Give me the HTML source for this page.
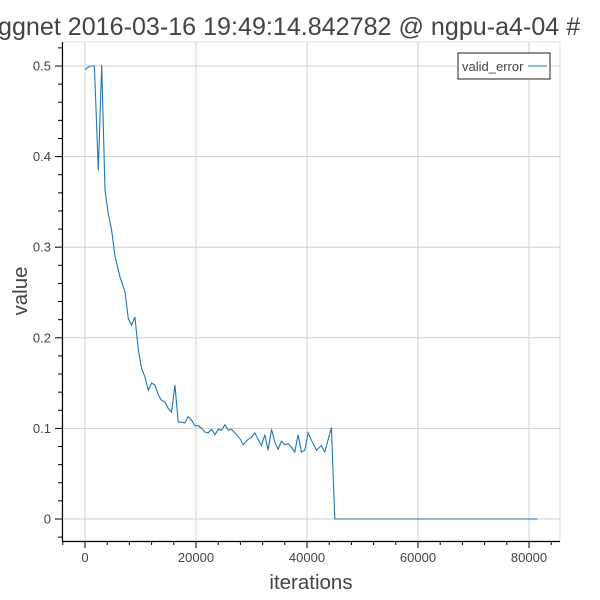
<!DOCTYPE html>
<html><head><meta charset="utf-8"><style>
html,body{margin:0;padding:0;background:#fff;}
svg{display:block;font-family:"Liberation Sans",sans-serif;}
</style></head><body>
<svg id="chart" width="600" height="600">
<text x="-2" y="35" font-size="25.1" fill="#444">ggnet 2016-03-16 19:49:14.842782 @ ngpu-a4-04 #</text>
<rect x="62" y="42" width="498" height="499" fill="none" stroke="#e0e0e0"/>
<g id="grid"></g>
<g id="series"></g>
<g id="axes"></g>
<text x="311" y="589" font-size="20.5" fill="#444" text-anchor="middle">iterations</text>
<text x="27" y="291" font-size="20.5" fill="#444" text-anchor="middle" transform="rotate(-90 27 291)">value</text>
<g>
<rect x="458" y="53" width="92" height="26" fill="#fff" stroke="#222"/>
<text x="462" y="71" font-size="13" fill="#444">valid_error</text>
<line x1="528" y1="66" x2="547" y2="66" stroke="#1f77b4" stroke-width="1"/>
</g>
</svg>
<script>
const iterations=[0,900,1700,2400,3000,3600,4200,4800,5400,6300,7200,7800,8400,9000,9600,10200,10800,11400,12000,12600,13200,13800,14400,15000,15600,16200,16800,17400,18000,18600,19200,19800,20400,21000,21600,22200,22800,23400,24000,24600,25200,25800,26400,27000,27900,28500,29400,30000,30600,31800,32400,33000,33600,34200,34800,35400,36000,36600,37200,37800,38400,39000,39600,40200,40800,41700,42600,43200,44400,45000,81500];
const validError=[0.496,0.5,0.5,0.385,0.501,0.363,0.337,0.319,0.29,0.267,0.251,0.221,0.214,0.223,0.187,0.166,0.157,0.142,0.15,0.148,0.137,0.131,0.129,0.122,0.118,0.148,0.107,0.107,0.106,0.113,0.109,0.103,0.103,0.1,0.096,0.095,0.099,0.093,0.099,0.098,0.104,0.098,0.099,0.095,0.089,0.082,0.088,0.09,0.095,0.081,0.093,0.076,0.099,0.085,0.077,0.086,0.082,0.083,0.079,0.074,0.093,0.074,0.076,0.095,0.087,0.076,0.081,0.074,0.101,0,0];
const xTicks=[0,20000,40000,60000,80000];
const yTicks=[0,0.1,0.2,0.3,0.4,0.5];
const NS='http://www.w3.org/2000/svg';
const sx=v=>85+v*111/20000;
const sy=v=>519-v*906;
function mk(tag,attrs,parent){const e=document.createElementNS(NS,tag);for(const k in attrs)e.setAttribute(k,attrs[k]);parent.appendChild(e);return e;}
const grid=document.getElementById('grid'),axes=document.getElementById('axes'),series=document.getElementById('series');
xTicks.forEach(t=>{const l=mk('line',{x1:sx(t),x2:sx(t),y1:42,y2:541,stroke:'#d0d0d0'},grid);

});
yTicks.forEach(t=>{const l=mk('line',{x1:62,x2:560,y1:sy(t),y2:sy(t),stroke:'#d0d0d0'},grid);

});
const xa=mk('line',{x1:62,x2:560,y1:541.5,y2:541.5,stroke:'#000','stroke-width':1.2},axes);


const ya=mk('line',{x1:62.5,x2:62.5,y1:42,y2:542,stroke:'#000','stroke-width':1.2},axes);


for(let v=-4000;v<=84000;v+=4000){const x=sx(v);if(x<62||x>560)continue;const major=v%20000===0;
mk('line',{x1:x,x2:x,y1:541,y2:major?548:545,stroke:'#000'},axes);}
for(let i=-1;i<=26;i++){const v=i*0.02;const y=sy(v);if(y<42||y>541)continue;const major=i%5===0;
mk('line',{x1:major?55:58,x2:62,y1:y,y2:y,stroke:'#000'},axes);}
xTicks.forEach(t=>{const tx=mk('text',{x:sx(t),y:562,'font-size':13,fill:'#444','text-anchor':'middle'},axes);tx.textContent=String(t);

});
yTicks.forEach(t=>{const tx=mk('text',{x:51,y:sy(t)+4.5,'font-size':13,fill:'#444','text-anchor':'end'},axes);tx.textContent=String(t);

});
const pts=iterations.map((v,i)=>sx(v).toFixed(1)+','+sy(validError[i]).toFixed(1)).join(' ');
const pl=mk('polyline',{points:pts,fill:'none',stroke:'#1f77b4','stroke-width':1.1},series);


</script>
</body></html>
